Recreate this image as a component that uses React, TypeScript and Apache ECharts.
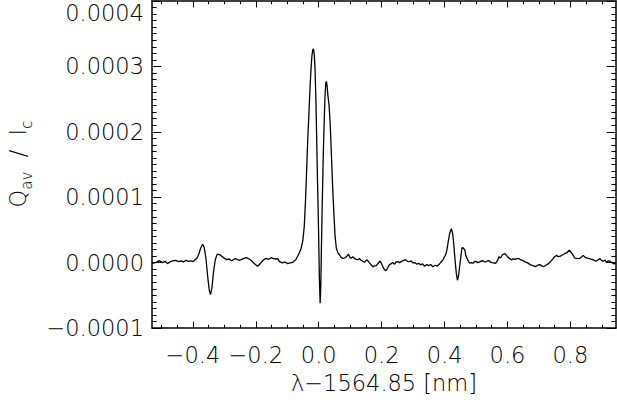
import React, { useEffect, useRef } from "react";
import * as echarts from "echarts";

// wavelength offset from 1564.85 nm
const LAMBDA = [
  -0.530, -0.518, -0.507, -0.497, -0.488, -0.481, -0.473, -0.465, -0.454, -0.446,
  -0.438, -0.430, -0.422, -0.414, -0.406, -0.399, -0.393, -0.387, -0.382, -0.378,
  -0.3745, -0.369, -0.364, -0.3586, -0.3535, -0.348, -0.344, -0.3395, -0.3344, -0.329,
  -0.3226, -0.314, -0.309, -0.3035, -0.298, -0.293, -0.2844, -0.279, -0.274, -0.267,
  -0.261, -0.254, -0.247, -0.239, -0.231, -0.223, -0.215, -0.205, -0.194, -0.184,
  -0.176, -0.1675, -0.159, -0.1516, -0.144, -0.136, -0.130, -0.125, -0.1146, -0.107,
  -0.0987, -0.091, -0.083, -0.077, -0.072, -0.0615, -0.056, -0.051, -0.046, -0.042,
  -0.0385, -0.035, -0.031, -0.027, -0.024, -0.0215, -0.019, -0.017, -0.0145, -0.012,
  -0.009, -0.0064, -0.0045, -0.0025, 0.000, 0.002, 0.0045, 0.0065, 0.0085, 0.011,
  0.014, 0.0172, 0.020, 0.0225, 0.0245, 0.027, 0.029, 0.033, 0.0363, 0.040,
  0.0446, 0.049, 0.052, 0.056, 0.061, 0.066, 0.0715, 0.0764, 0.082, 0.087,
  0.0946, 0.099, 0.103, 0.108, 0.1137, 0.119, 0.124, 0.130, 0.135, 0.140,
  0.1455, 0.153, 0.1615, 0.166, 0.172, 0.177, 0.183, 0.189, 0.1955, 0.200,
  0.204, 0.208, 0.2124, 0.216, 0.2197, 0.225, 0.2306, 0.236, 0.241, 0.246,
  0.2516, 0.257, 0.262, 0.268, 0.276, 0.282, 0.289, 0.294, 0.299, 0.305,
  0.312, 0.318, 0.323, 0.330, 0.3366, 0.343, 0.350, 0.356, 0.363, 0.370,
  0.376, 0.382, 0.3866, 0.391, 0.395, 0.4035, 0.407, 0.411, 0.4165, 0.4216,
  0.4255, 0.429, 0.4315, 0.4344, 0.4375, 0.441, 0.4445, 0.448, 0.452, 0.4555,
  0.460, 0.4646, 0.468, 0.4713, 0.476, 0.480, 0.4853, 0.4904, 0.496, 0.501,
  0.506, 0.512, 0.520, 0.525, 0.531, 0.536, 0.5414, 0.547, 0.552, 0.5627,
  0.568, 0.573, 0.578, 0.584, 0.5914, 0.597, 0.602, 0.608, 0.613, 0.618,
  0.623, 0.630, 0.637, 0.643, 0.650, 0.656, 0.6624, 0.669, 0.676, 0.683,
  0.690, 0.696, 0.703, 0.709, 0.7156, 0.722, 0.729, 0.736, 0.743, 0.750,
  0.756, 0.762, 0.7688, 0.776, 0.7825, 0.789, 0.796, 0.8035, 0.809, 0.814,
  0.821, 0.828, 0.834, 0.8408, 0.847, 0.8535, 0.860, 0.8675, 0.874, 0.8812,
  0.887, 0.894, 0.900, 0.9045, 0.910, 0.915, 0.920, 0.926, 0.932, 0.9385,
  0.945,
];

// Q_av / I_c in units of 1e-4
const Q_AV_E4 = [
  -0.01, 0.00, 0.03, 0.00, 0.02, -0.015, 0.01, 0.025, 0.035, 0.015,
  0.025, 0.01, 0.035, 0.02, 0.025, 0.015, 0.045, 0.07, 0.12, 0.18,
  0.23, 0.28, 0.23, 0.07, -0.19, -0.42, -0.49, -0.39, -0.14, 0.04,
  0.13, 0.12, 0.10, 0.08, 0.06, 0.045, 0.055, 0.03, 0.035, 0.06,
  0.055, 0.035, 0.045, 0.06, 0.075, 0.06, 0.035, -0.015, -0.055, -0.005,
  0.04, 0.065, 0.05, 0.075, 0.06, 0.055, 0.06, 0.015, -0.005, 0.01,
  -0.015, -0.005, 0.005, 0.03, 0.05, 0.15, 0.22, 0.32, 0.55, 0.95,
  1.40, 1.87, 2.30, 2.74, 3.00, 3.17, 3.25, 3.27, 3.20, 3.00,
  2.50, 1.87, 1.40, 0.96, 0.35, -0.22, -0.62, -0.37, 0.20, 0.85,
  1.55, 2.13, 2.55, 2.75, 2.77, 2.68, 2.56, 2.40, 2.13, 1.70,
  1.11, 0.68, 0.40, 0.22, 0.15, 0.12, 0.08, 0.065, 0.07, 0.085,
  0.13, 0.08, 0.065, 0.09, 0.065, 0.05, 0.045, 0.06, 0.035, 0.02,
  0.005, 0.045, -0.005, -0.03, -0.065, -0.05, -0.045, -0.01, 0.025, -0.02,
  -0.065, -0.10, -0.125, -0.11, -0.075, -0.03, -0.015, 0.00, -0.025, 0.01,
  0.015, 0.00, 0.015, 0.03, 0.045, 0.02, 0.015, 0.025, -0.005, 0.00,
  -0.025, -0.01, -0.035, -0.02, -0.055, -0.03, -0.045, -0.03, -0.065, -0.04,
  -0.055, -0.03, -0.005, 0.02, 0.045, 0.12, 0.18, 0.30, 0.45, 0.52,
  0.45, 0.30, 0.14, -0.01, -0.17, -0.27, -0.20, -0.06, 0.10, 0.23,
  0.22, 0.19, 0.10, 0.065, 0.02, -0.01, 0.00, -0.01, 0.02, 0.015,
  0.00, 0.01, 0.03, 0.015, 0.01, 0.025, 0.03, 0.005, 0.00, -0.01,
  0.03, 0.09, 0.07, 0.12, 0.14, 0.11, 0.08, 0.06, 0.04, 0.06,
  0.05, 0.06, 0.06, 0.04, 0.03, 0.01, 0.00, -0.02, -0.04, -0.05,
  -0.06, -0.04, -0.03, -0.05, -0.06, -0.04, -0.02, 0.01, 0.05, 0.09,
  0.11, 0.09, 0.10, 0.12, 0.14, 0.15, 0.19, 0.15, 0.11, 0.07,
  0.065, 0.06, 0.08, 0.11, 0.08, 0.07, 0.06, 0.05, 0.04, 0.02,
  0.04, 0.06, 0.03, 0.02, 0.04, 0.00, 0.03, 0.02, 0.00, -0.02,
  -0.01,
];

const X_MAJOR_TICKS = [-0.4, -0.2, 0.0, 0.2, 0.4, 0.6, 0.8];
const X_MINOR_TICKS = [
  -0.5, -0.45, -0.35, -0.3, -0.25, -0.15, -0.1, -0.05, 0.05, 0.1, 0.15,
  0.25, 0.3, 0.35, 0.45, 0.5, 0.55, 0.65, 0.7, 0.75, 0.85, 0.9,
];
const X_MIN = -0.53;
const X_MAX = 0.945;
const Y_MIN = -0.0001;
const Y_MAX = 0.0004;
const Y_STEP = 0.0001;

const FONT = "DejaVu Sans";
const FW = 200;
const FS = 22.5;

const minus = (s: string) => s.replace("-", "\u2212");

export default function App() {
  const ref = useRef<HTMLDivElement>(null);
  useEffect(() => {
    if (!ref.current) return;
    const chart = echarts.init(ref.current, undefined, { renderer: "svg" });
    const data = LAMBDA.map((x, i) => [x, Q_AV_E4[i] * 1e-4]);
    const axisLine = { show: true, onZero: false, lineStyle: { color: "#000", width: 1.5 } };
    const noLine = { show: false, onZero: false };
    const tickStyle = { color: "#000", width: 1 };
    const baseX = {
      type: "value",
      min: X_MIN,
      max: X_MAX,
      splitLine: { show: false },
      axisLine,
    };
    const baseY = {
      type: "value",
      min: Y_MIN,
      max: Y_MAX,
      interval: Y_STEP,
      splitLine: { show: false },
      axisLine,
      axisTick: { show: true, inside: true, length: 9.3, lineStyle: tickStyle },
      minorTick: { show: true, splitNumber: 10, length: 4.6, lineStyle: tickStyle },
      minorSplitLine: { show: false },
    };
    chart.setOption({
      animation: false,
      backgroundColor: "#fff",
      grid: {
        left: 152,
        right: 1,
        top: 1,
        bottom: 72,
        containLabel: false,
        outerBoundsMode: "none",
      },
      xAxis: [
        {
          ...baseX,
          position: "bottom",
          axisTick: { show: true, inside: true, length: 6.5, customValues: X_MAJOR_TICKS, lineStyle: tickStyle },
          axisLabel: {
            show: true,
            customValues: X_MAJOR_TICKS,
            margin: 15,
            color: "#000",
            fontFamily: FONT,
            fontWeight: FW,
            fontSize: FS,
            formatter: (v: number) => minus(v.toFixed(1)),
          },
        },
        {
          ...baseX,
          position: "bottom",
          axisLine: noLine,
          axisTick: { show: true, inside: true, length: 3.3, customValues: X_MINOR_TICKS, lineStyle: tickStyle },
          axisLabel: { show: false },
        },
        {
          ...baseX,
          position: "top",
          axisTick: { show: true, inside: true, length: 6.5, customValues: X_MAJOR_TICKS, lineStyle: tickStyle },
          axisLabel: { show: false },
        },
        {
          ...baseX,
          position: "top",
          axisLine: noLine,
          axisTick: { show: true, inside: true, length: 3.3, customValues: X_MINOR_TICKS, lineStyle: tickStyle },
          axisLabel: { show: false },
        },
      ],
      yAxis: [
        {
          ...baseY,
          position: "left",
          axisLabel: {
            show: true,
            margin: 8,
            color: "#000",
            fontFamily: FONT,
            fontWeight: FW,
            fontSize: FS,
            showMinLabel: true,
            showMaxLabel: true,
            formatter: (v: number) => {
              const val = Math.abs(v) < 1e-12 ? 0 : v;
              const s = minus(val.toFixed(4));
              if (Math.abs(v - Y_MAX) < 1e-12) return "{top|" + s + "}";
              return s;
            },
            rich: {
              top: {
                fontFamily: FONT,
                fontWeight: FW,
                fontSize: FS,
                color: "#000",
                padding: [24, 0, 0, 0],
              },
            },
          },
        },
        {
          ...baseY,
          position: "right",
          axisLabel: { show: false },
        },
      ],
      graphic: [
        {
          type: "text",
          x: 384,
          y: 383,
          style: {
            text: "\u03bb\u22121564.85 [nm]",
            fontFamily: FONT,
            fontWeight: FW,
            fontSize: FS,
            fill: "#000",
            align: "center",
            verticalAlign: "middle",
          },
        },
        {
          type: "text",
          x: 18,
          y: 164,
          rotation: Math.PI / 2,
          style: {
            text: "{q|Q}{s|av}{q|  /  I}{s|c}",
            align: "center",
            verticalAlign: "middle",
            rich: {
              q: { fontFamily: FONT, fontWeight: FW, fontSize: FS, fill: "#000", verticalAlign: "top", lineHeight: 24 },
              s: {
                fontFamily: FONT,
                fontWeight: FW,
                fontSize: 15,
                fill: "#000",
                verticalAlign: "top",
                lineHeight: 16,
                padding: [13, 0, 0, 0],
              },
            },
          },
        },
      ],
      series: [
        {
          type: "line",
          xAxisIndex: 0,
          yAxisIndex: 0,
          data,
          showSymbol: false,
          symbol: "none",
          lineStyle: { color: "#000", width: 1.3 },
          clip: true,
        },
      ],
    });
    return () => chart.dispose();
  }, []);
  return (
    <div
      ref={ref}
      style={{ position: "fixed", left: 0, top: 0, width: 617, height: 400 }}
    />
  );
}
